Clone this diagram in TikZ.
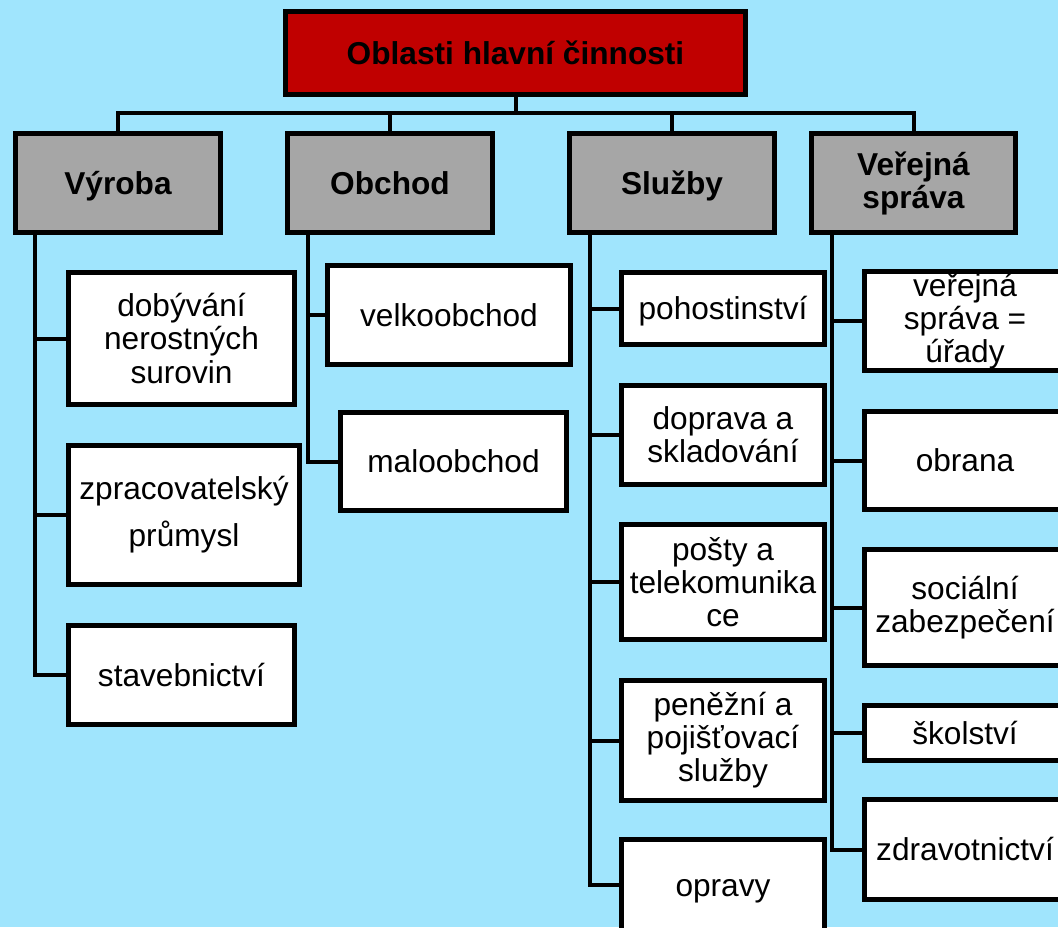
\documentclass[tikz,border=0pt]{standalone}
\usepackage{fontspec}
\setmainfont{Liberation Sans}
\usepackage{tikz}
\usetikzlibrary{positioning}

\definecolor{bgblue}{RGB}{160,229,253}
\definecolor{topred}{RGB}{192,0,0}
\definecolor{catgray}{RGB}{166,166,166}

\tikzset{
  box/.style={draw=black, line width=0.125cm, inner sep=0pt, align=center,
    font=\fontsize{22.5}{23.5}\selectfont},
  oneline/.style={text height=16pt, text depth=0pt},
  topbox/.style={box, fill=topred, font=\fontsize{22.5}{23.5}\selectfont\bfseries},
  catbox/.style={box, fill=catgray, font=\fontsize{22.5}{23.5}\selectfont\bfseries,
    minimum width=5.1cm, minimum height=2.475cm},
  leaf/.style={box, fill=white},
  link/.style={draw=black, line width=0.1cm}
}

\begin{document}
\begin{tikzpicture}[x=0.025cm, y=-0.025cm]
\path[use as bounding box, fill=bgblue] (0,0) rectangle (1058,927);

\node[topbox, oneline, minimum width=11.5cm, minimum height=2.075cm] (top) at (515.5,53) {Oblasti hlavní činnosti};

\node[catbox, oneline] (vyr) at (118,183) {Výroba};
\node[catbox, oneline] (obc) at (390,183) {Obchod};
\node[catbox, oneline] (slu) at (672,183) {Služby};
\node[catbox] (ver) at (913.5,183) {Veřejná\\správa};

\node[leaf, minimum width=5.65cm, minimum height=3.3cm] (dob) at (181.5,338.5) {dobývání\\nerostných\\surovin};
\node[leaf, minimum width=5.775cm, minimum height=3.475cm, font=\fontsize{22.5}{33.4}\selectfont] (zpr) at (184,515) {zpracovatelský\\průmysl};
\node[leaf, oneline, minimum width=5.65cm, minimum height=2.475cm] (sta) at (181.5,675) {stavebnictví};

\node[leaf, oneline, minimum width=6.075cm, minimum height=2.475cm] (vel) at (449,315) {velkoobchod};
\node[leaf, oneline, minimum width=5.65cm, minimum height=2.45cm] (mal) at (453.5,461.5) {maloobchod};

\node[leaf, oneline, minimum width=5.075cm, minimum height=1.8cm] (poh) at (723,308.5) {pohostinství};
\node[leaf, minimum width=5.075cm, minimum height=2.475cm] (dop) at (723,435) {doprava a\\skladování};
\node[leaf, minimum width=5.075cm, minimum height=2.875cm] (pos) at (723,582) {pošty a\\telekomunika\\ce};
\node[leaf, minimum width=5.075cm, minimum height=3.0cm] (pen) at (723,740.5) {peněžní a\\pojišťovací\\služby};
\node[leaf, oneline, minimum width=5.075cm, minimum height=2.275cm] (opr) at (723,885) {opravy};

\node[leaf, minimum width=5.025cm, minimum height=2.475cm] (vsp) at (965,321) {veřejná\\správa =\\úřady};
\node[leaf, oneline, minimum width=5.025cm, minimum height=2.45cm] (obr) at (965,460.5) {obrana};
\node[leaf, minimum width=5.025cm, minimum height=2.9cm] (soc) at (965,607.5) {sociální\\zabezpečení};
\node[leaf, oneline, minimum width=5.025cm, minimum height=1.375cm] (sko) at (965,733) {školství};
\node[leaf, oneline, minimum width=5.025cm, minimum height=2.5cm] (zdr) at (965,849.5) {zdravotnictví};

% bus from the top box
\coordinate (bus) at (515.5,113);
\draw[link] (top.south) -- (bus);
\foreach \c in {vyr,obc,slu,ver}
  \draw[link] (\c.north) |- (bus);

% branch lines
\coordinate (vyrL) at (35,235);
\coordinate (obcL) at (308,235);
\coordinate (sluL) at (590,235);
\coordinate (verL) at (832,235);
\foreach \c in {dob,zpr,sta}
  \draw[link] (vyrL) |- (\c.west);
\foreach \c in {vel,mal}
  \draw[link] (obcL) |- (\c.west);
\foreach \c in {poh,dop,pos,pen,opr}
  \draw[link] (sluL) |- (\c.west);
\foreach \c in {vsp,obr,soc,sko,zdr}
  \draw[link] (verL) |- (\c.west);
\end{tikzpicture}
\end{document}
